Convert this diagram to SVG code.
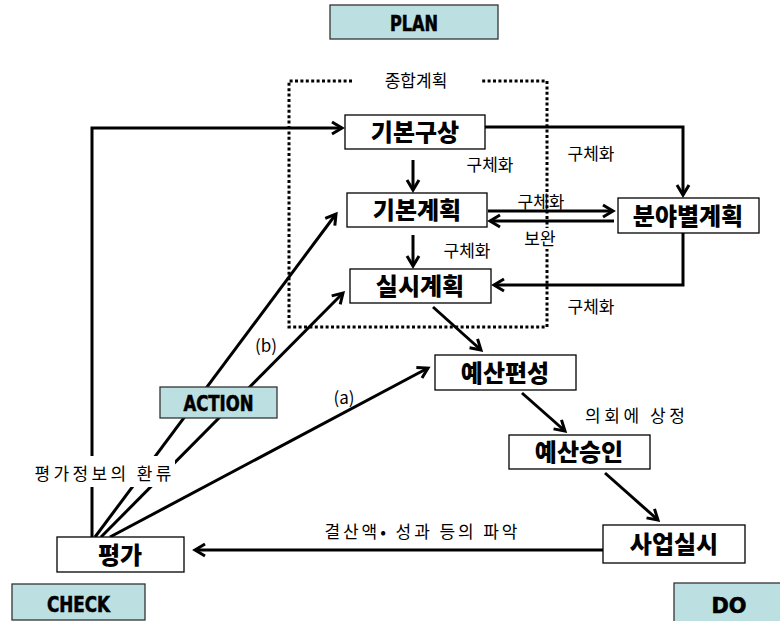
<svg xmlns="http://www.w3.org/2000/svg" width="780" height="621" viewBox="0 0 780 621">
  <defs>
    <marker id="arrow" markerUnits="userSpaceOnUse" markerWidth="16" markerHeight="16" refX="13" refY="8" orient="auto">
      <path d="M3,2 L13,8 L3,14" fill="none" stroke="#000" stroke-width="3" stroke-linejoin="miter"/>
    </marker>
    <style>
      .node rect { fill: #fff; stroke: #000; stroke-width: 1.3; }
      .node text { font-family: "Noto Sans CJK KR", "Noto Sans", sans-serif; font-weight: 900; font-size: 24px; text-anchor: middle; fill: #000; }
      .phase rect { fill: #bcdfe2; stroke: #333; stroke-width: 1.3; }
      .phase text { font-family: "DejaVu Sans", "Liberation Sans", sans-serif; font-stretch: condensed; font-weight: bold; font-size: 22px; text-anchor: middle; fill: #000; stroke: #000; stroke-width: 0.6; }
      .label { font-family: "Noto Sans CJK KR", "Noto Sans", sans-serif; font-size: 17px; fill: #000; text-anchor: middle; }
      .mask { fill: #fff; stroke: none; }
      .conn path, .conn line { fill: none; stroke: #000; stroke-width: 3; }
      .dotted { fill: none; stroke: #000; stroke-width: 3; stroke-dasharray: 3 2.4; }
    </style>
  </defs>

  <rect width="780" height="621" fill="#fff"/>

  <!-- overall-plan frame -->
  <g id="plan-frame">
    <path class="dotted" d="M352,81 L289,81 L289,327 L547,327 L547,81 L480,81"/>
    <text class="label" x="416" y="87">종합계획</text>
  </g>

  <!-- connectors -->
  <g id="connectors" class="conn">
    <path d="M92,537 L92,128 L342,128" marker-end="url(#arrow)"/>
    <path d="M485,127 L683,127 L683,195" marker-end="url(#arrow)"/>
    <line x1="413" y1="160" x2="413" y2="190" marker-end="url(#arrow)"/>
    <line x1="413" y1="235" x2="413" y2="266" marker-end="url(#arrow)"/>
    <line x1="488" y1="211" x2="613" y2="211" marker-end="url(#arrow)"/>
    <line x1="614" y1="221" x2="490" y2="221" marker-end="url(#arrow)"/>
    <path d="M683,233 L683,285 L494,285" marker-end="url(#arrow)"/>
    <line x1="433" y1="307" x2="481" y2="350" marker-end="url(#arrow)"/>
    <line x1="522" y1="393" x2="565" y2="431" marker-end="url(#arrow)"/>
    <line x1="605" y1="473" x2="658" y2="520" marker-end="url(#arrow)"/>
    <line x1="603" y1="550" x2="195" y2="550" marker-end="url(#arrow)"/>
    <line x1="95" y1="537" x2="336" y2="214" marker-end="url(#arrow)"/>
    <line x1="101" y1="537" x2="343" y2="293" marker-end="url(#arrow)"/>
    <line x1="110" y1="537" x2="428" y2="368" marker-end="url(#arrow)"/>
  </g>

  <!-- connector labels (white backing where a label sits on a line) -->
  <g id="labels">
    <text class="label" x="490" y="171">구체화</text>
    <text class="label" x="591" y="160">구체화</text>
    <text class="label" x="541" y="208">구체화</text>
    <rect class="mask" x="525" y="228" width="30" height="21"/>
    <text class="label" x="540" y="245">보완</text>
    <text class="label" x="467" y="257">구체화</text>
    <text class="label" x="591" y="313">구체화</text>
    <text class="label" x="266" y="352">(b)</text>
    <text class="label" x="344" y="404">(a)</text>
    <rect class="mask" x="33" y="456" width="142" height="31"/>
    <text class="label" x="103" y="480" textLength="137" lengthAdjust="spacing">평가정보의 환류</text>
    <text class="label" x="421" y="538" textLength="193" lengthAdjust="spacing">결산액• 성과 등의 파악</text>
    <text class="label" x="635" y="422" textLength="100" lengthAdjust="spacing">의회에 상정</text>
  </g>

  <!-- plan-do-check-action phase tags -->
  <g id="phase-plan" class="phase">
    <rect x="330" y="5" width="168" height="34"/>
    <text x="414" y="31" textLength="48" lengthAdjust="spacingAndGlyphs">PLAN</text>
  </g>
  <g id="phase-action" class="phase">
    <rect x="160" y="387" width="117" height="31"/>
    <text x="218.5" y="411" textLength="70" lengthAdjust="spacingAndGlyphs">ACTION</text>
  </g>
  <g id="phase-check" class="phase">
    <rect x="12" y="584" width="133" height="36"/>
    <text x="78.5" y="612" textLength="63" lengthAdjust="spacingAndGlyphs">CHECK</text>
  </g>
  <g id="phase-do" class="phase">
    <rect x="674" y="583" width="110" height="40"/>
    <text x="729" y="613" textLength="35" lengthAdjust="spacingAndGlyphs">DO</text>
  </g>

  <!-- process nodes -->
  <g id="node-gibon-gusang" class="node">
    <rect x="345" y="115" width="140" height="34"/>
    <text x="415" y="141">기본구상</text>
  </g>
  <g id="node-gibon-gyehoek" class="node">
    <rect x="347" y="193" width="140" height="34"/>
    <text x="417" y="219">기본계획</text>
  </g>
  <g id="node-silsi-gyehoek" class="node">
    <rect x="350" y="269" width="141" height="34"/>
    <text x="420" y="295">실시계획</text>
  </g>
  <g id="node-bunya-gyehoek" class="node">
    <rect x="618" y="198" width="141" height="35"/>
    <text x="688" y="225">분야별계획</text>
  </g>
  <g id="node-yesan-pyeonseong" class="node">
    <rect x="435" y="355" width="141" height="35"/>
    <text x="505" y="382">예산편성</text>
  </g>
  <g id="node-yesan-seungin" class="node">
    <rect x="509" y="435" width="141" height="34"/>
    <text x="579" y="461">예산승인</text>
  </g>
  <g id="node-saeop-silsi" class="node">
    <rect x="603" y="525" width="142" height="38"/>
    <text x="674" y="553">사업실시</text>
  </g>
  <g id="node-pyeongga" class="node">
    <rect x="57" y="537" width="127" height="35"/>
    <text x="120" y="564">평가</text>
  </g>
</svg>
